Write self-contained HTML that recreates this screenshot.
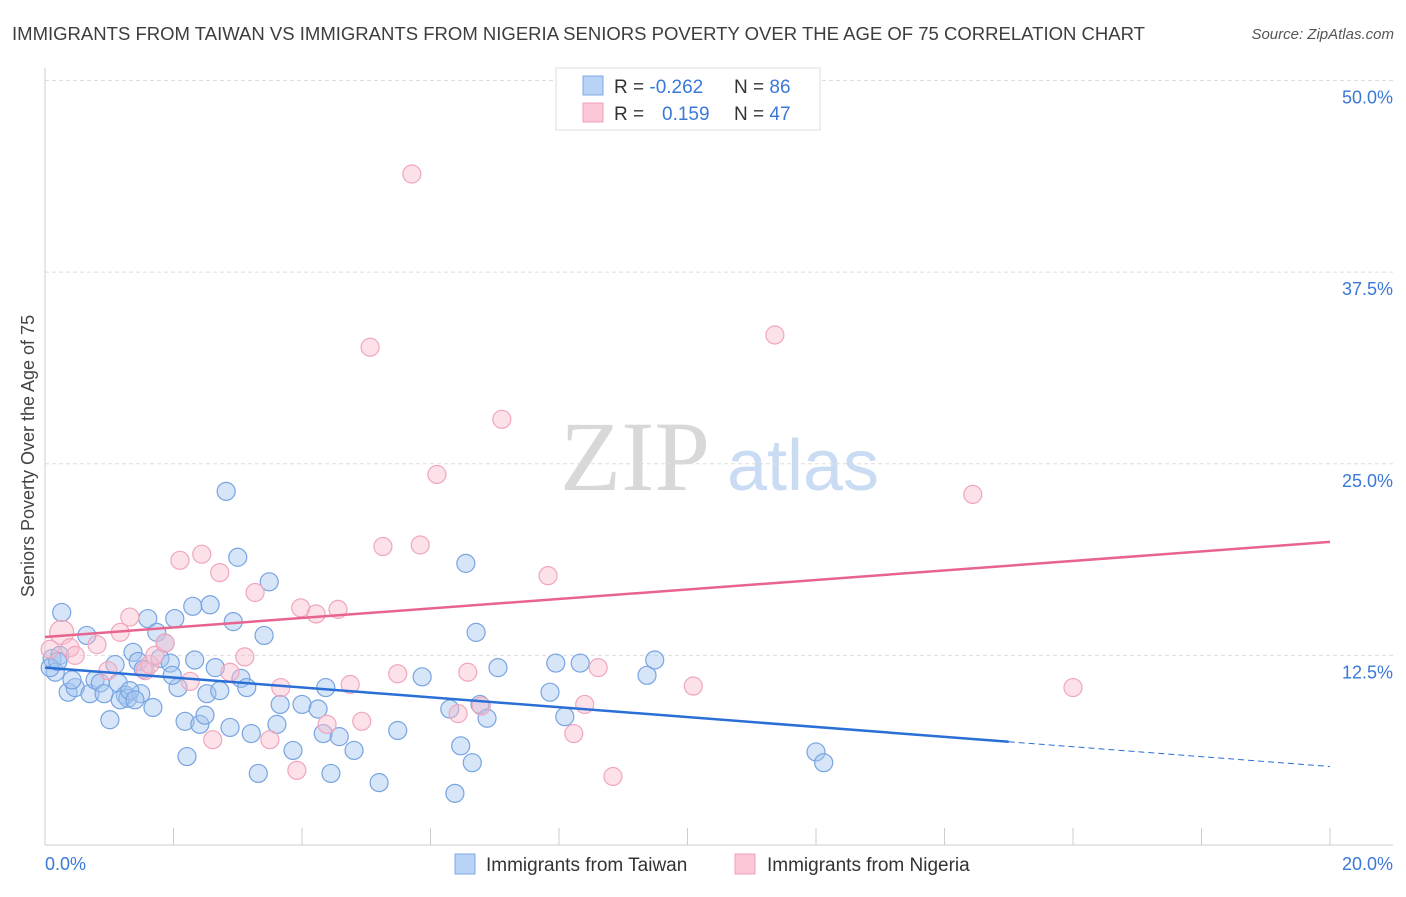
<!DOCTYPE html>
<html><head><meta charset="utf-8"><style>
body{margin:0;background:#fff;font-family:"Liberation Sans",sans-serif}
</style></head><body>
<svg width="1406" height="892" viewBox="0 0 1406 892" xmlns="http://www.w3.org/2000/svg" font-family="Liberation Sans, sans-serif">
<text x="12" y="40" font-size="18" fill="#3d3d3d" textLength="1133" lengthAdjust="spacingAndGlyphs">IMMIGRANTS FROM TAIWAN VS IMMIGRANTS FROM NIGERIA SENIORS POVERTY OVER THE AGE OF 75 CORRELATION CHART</text>
<text x="1394" y="39" font-size="15" fill="#555" font-style="italic" text-anchor="end">Source: ZipAtlas.com</text>
<g>
<text x="635" y="490" font-size="100" style="font-family:'Liberation Serif',serif" fill="#d8d8d8" text-anchor="middle">ZIP</text>
<text x="803" y="490" font-size="72" fill="#c9dcf3" text-anchor="middle">atlas</text>
</g>
<g id="grid"></g>
<line x1="45" y1="68" x2="45" y2="845" stroke="#ccc"/>
<line x1="45" y1="845" x2="1393" y2="845" stroke="#ccc"/>
<g id="xticks"></g>
<text x="45" y="870" font-size="18" fill="#3a78d8">0.0%</text>
<text x="1393" y="870" font-size="18" fill="#3a78d8" text-anchor="end">20.0%</text>
<text transform="translate(34,456) rotate(-90)" font-size="18" fill="#444" text-anchor="middle">Seniors Poverty Over the Age of 75</text>
<g id="points"></g>
<g id="trends"></g>
<g>
<rect x="556" y="68" width="264" height="62" fill="#fff" stroke="#ddd"/>
<rect x="583" y="76" width="20" height="19" fill="#b8d3f5" stroke="#7fa8e3"/>
<rect x="583" y="103" width="20" height="19" fill="#fcc8d8" stroke="#f0a0b8"/>
<text x="614" y="93" font-size="19" fill="#333">R = <tspan fill="#3a78d8">-0.262</tspan><tspan x="734">N = </tspan><tspan fill="#3a78d8">86</tspan></text>
<text x="614" y="120" font-size="19" fill="#333">R = <tspan x="662" fill="#3a78d8">0.159</tspan><tspan x="734">N = </tspan><tspan fill="#3a78d8">47</tspan></text>
</g>
<g>
<rect x="455" y="854" width="20" height="20" fill="#b8d3f5" stroke="#7fa8e3"/>
<text x="486" y="871" font-size="19" fill="#333">Immigrants from Taiwan</text>
</g>
<g>
<rect x="735" y="854" width="20" height="20" fill="#fcc8d8" stroke="#f0a0b8"/>
<text x="767" y="871" font-size="19" fill="#333">Immigrants from Nigeria</text>
</g>
</svg>
<script>
const yTicks=[12.5,25,37.5,50];
const yTickLabels=["12.5%","25.0%","37.5%","50.0%"];
const xTicks=[0,2,4,6,8,10,12,14,16,18,20];
const taiwanX=[0.26,0.65,0.11,0.23,0.16,0.36,0.47,0.42,0.70,0.78,0.86,0.92,1.01,1.09,1.14,1.25,1.29,1.37,1.45,1.49,1.60,1.68,1.74,1.79,1.87,1.95,2.02,2.07,1.98,2.18,2.21,2.30,2.33,2.41,2.49,2.52,2.57,2.65,2.72,2.82,2.88,2.93,3.00,3.05,3.14,3.21,3.32,3.41,3.49,3.61,3.66,3.86,4.00,4.25,4.33,4.37,4.45,4.58,4.81,5.20,5.49,5.87,6.30,6.38,6.47,6.55,6.65,6.71,6.77,6.88,7.05,7.86,7.95,8.09,8.33,9.37,9.49,12.00,12.12,0.08,0.20,1.17,1.32,1.40,1.53];
const taiwanY=[15.3,13.8,12.3,12.5,11.4,10.1,10.4,10.9,10.0,10.9,10.7,10.0,8.3,11.9,10.7,9.9,9.7,12.7,12.1,10.0,14.9,9.1,14.0,12.3,13.3,12.0,14.9,10.4,11.2,8.2,5.9,15.7,12.2,8.0,8.6,10.0,15.8,11.7,10.2,23.2,7.8,14.7,18.9,11.0,10.4,7.4,4.8,13.8,17.3,8.0,9.3,6.3,9.3,9.0,7.4,10.4,4.8,7.2,6.3,4.2,7.6,11.1,9.0,3.5,6.6,18.5,5.5,14.0,9.3,8.4,11.7,10.1,12.0,8.5,12.0,11.2,12.2,6.2,5.5,11.7,12.1,9.6,10.2,9.6,11.6];
const nigeriaX=[0.26,0.08,0.39,0.47,0.81,0.98,1.17,1.32,1.56,1.63,1.71,1.87,2.10,2.26,2.44,2.61,2.72,2.88,3.11,3.27,3.50,3.67,3.92,3.98,4.22,4.39,4.56,4.75,4.93,5.06,5.26,5.49,5.71,5.84,6.10,6.43,6.58,6.79,7.11,7.83,8.23,8.40,8.61,8.84,10.09,11.36,14.44,16.00];
const nigeriaY=[14.0,12.9,13.0,12.5,13.2,11.5,14.0,15.0,11.5,11.9,12.5,13.3,18.7,10.8,19.1,7.0,17.9,11.4,12.4,16.6,7.0,10.4,5.0,15.6,15.2,8.0,15.5,10.6,8.2,32.6,19.6,11.3,43.9,19.7,24.3,8.7,11.4,9.2,27.9,17.7,7.4,9.3,11.7,4.6,10.5,33.4,23.0,10.4];
const taiwanTrend=[11.7,5.25];
const nigeriaTrend=[13.7,19.9];
const taiwanSolidEnd=15;
const NS="http://www.w3.org/2000/svg";
const sx=v=>45+v*64.25, sy=v=>847-v*15.33;
function mk(tag,attrs,parent){const e=document.createElementNS(NS,tag);for(const k in attrs)e.setAttribute(k,attrs[k]);parent.appendChild(e);return e;}
const grid=document.getElementById('grid');
yTicks.forEach((t,i)=>{
 const l=mk('line',{x1:45,x2:1393,y1:sy(t),y2:sy(t),stroke:'#ddd','stroke-dasharray':'4,3'},grid);
 
 
 const tx=mk('text',{x:1393,y:sy(t)+23,'font-size':18,fill:'#3a78d8','text-anchor':'end'},grid);
 tx.textContent=yTickLabels[i];
 
 
});
const xt=document.getElementById('xticks');
xTicks.forEach(t=>{
 const l=mk('line',{x1:sx(t),x2:sx(t),y1:828,y2:845,stroke:'#ccc'},xt);
 
 
});
const pts=document.getElementById('points');
taiwanX.forEach((x,i)=>{
 const c=mk('circle',{cx:sx(x),cy:sy(taiwanY[i]),r:9,fill:'rgba(165,198,240,0.45)',stroke:'#78a4e0','stroke-width':1.2},pts);
 
 
});
nigeriaX.forEach((x,i)=>{
 const c=mk('circle',{cx:sx(x),cy:sy(nigeriaY[i]),r:i===0?12:9,fill:'rgba(248,188,207,0.45)',stroke:'#f0a6bd','stroke-width':1.2},pts);
 
 
});
const tr=document.getElementById('trends');
const ty=x=>taiwanTrend[0]+(taiwanTrend[1]-taiwanTrend[0])*x/20;
let l1=mk('line',{x1:sx(0),y1:sy(ty(0)),x2:sx(taiwanSolidEnd),y2:sy(ty(taiwanSolidEnd)),stroke:'#2a6fd6','stroke-width':2.5},tr);


let l2=mk('line',{x1:sx(taiwanSolidEnd),y1:sy(ty(taiwanSolidEnd)),x2:sx(20),y2:sy(ty(20)),stroke:'#2a6fd6','stroke-width':1,'stroke-dasharray':'6,4'},tr);


let l3=mk('line',{x1:sx(0),y1:sy(nigeriaTrend[0]),x2:sx(20),y2:sy(nigeriaTrend[1]),stroke:'#e8638e','stroke-width':2.5},tr);


</script>
</body></html>
